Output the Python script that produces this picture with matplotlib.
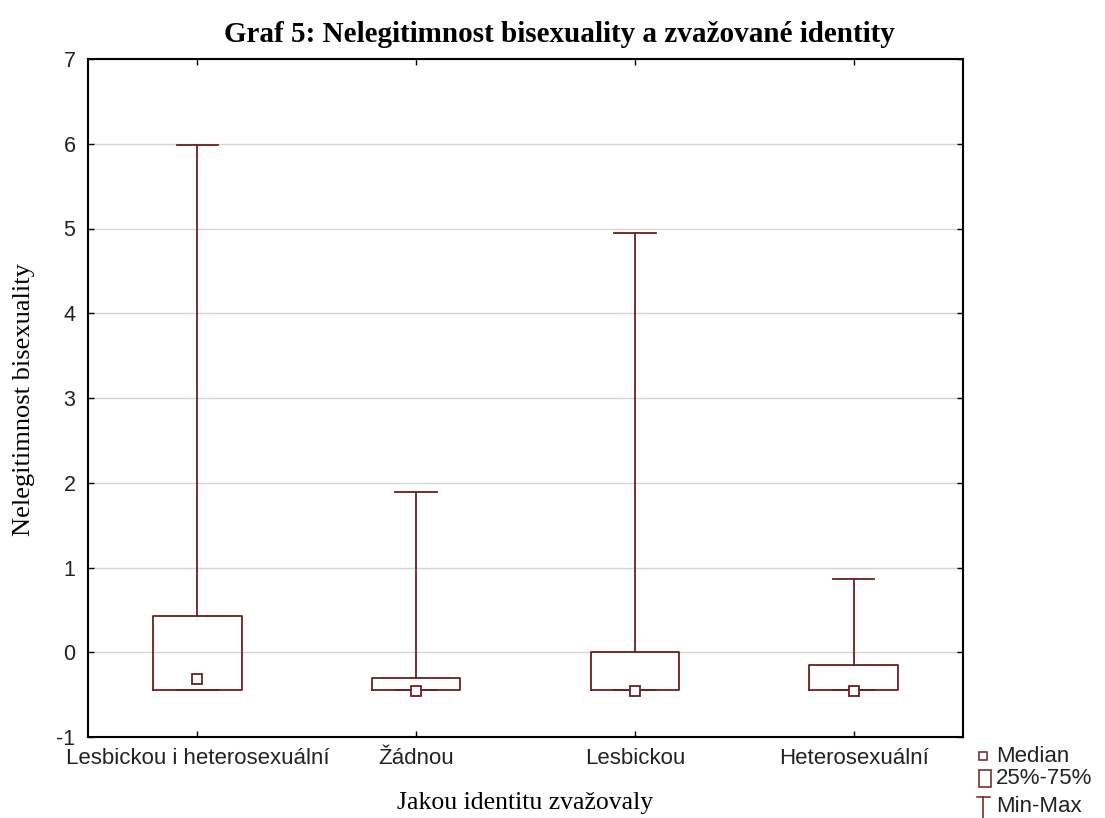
import matplotlib
matplotlib.use("Agg")
import matplotlib.pyplot as plt
from matplotlib.lines import Line2D
from matplotlib.patches import Rectangle

categories = ["Lesbickou i heterosexuální", "Žádnou", "Lesbickou", "Heterosexuální"]
q1 = [-0.45, -0.45, -0.45, -0.45]
q3 = [0.43, -0.30, 0.00, -0.15]
medians = [-0.31, -0.46, -0.46, -0.46]
mins = [-0.45, -0.45, -0.45, -0.45]
maxs = [5.98, 1.89, 4.95, 0.87]
yticks = [-1, 0, 1, 2, 3, 4, 5, 6, 7]

title = "Graf 5: Nelegitimnost bisexuality a zvažované identity"
xlabel = "Jakou identitu zvažovaly"
ylabel = "Nelegitimnost bisexuality"

W, H = 1105, 818
fig = plt.figure(figsize=(W / 100, H / 100), dpi=100)
ax = fig.add_axes([88 / W, 1 - 737 / H, (963 - 88) / W, (737 - 59) / H])

col = "#6a2020"
stats = []
for i in range(len(categories)):
    stats.append(dict(med=medians[i], q1=q1[i], q3=q3[i], whislo=mins[i], whishi=maxs[i], fliers=[]))
pos = list(range(len(categories)))
ax.bxp(stats, positions=pos, widths=0.405, capwidths=0.19, showfliers=False,
       boxprops=dict(color=col, linewidth=1.3),
       whiskerprops=dict(color=col, linewidth=1.3),
       capprops=dict(color=col, linewidth=1.3),
       medianprops=dict(visible=False), zorder=3)
ax.plot(pos, medians, "s", ms=7, mfc="white", mec=col, mew=1.3, ls="none", zorder=4)

ax.set_xlim(-0.5, len(categories) - 0.5)
ax.set_ylim(-1, 7)
ax.set_yticks(yticks)
ax.set_yticklabels([str(v) for v in yticks])
ax.set_xticks(pos)
ax.set_xticklabels(categories)
ax.yaxis.grid(True, color="#d4d4d4", linewidth=1)
ax.set_axisbelow(True)
ax.tick_params(direction="in", length=4, width=1, top=True, right=True, colors="black")
ax.tick_params(axis="x", pad=8, labelsize=16)
ax.tick_params(axis="y", pad=9, labelsize=15.5)
for lab in ax.get_xticklabels() + ax.get_yticklabels():
    lab.set_fontfamily("Liberation Sans")
    lab.set_color("#222222")
for s in ax.spines.values():
    s.set_linewidth(1.5)
    s.set_color("black")

fig.text(559 / W, 1 - 34 / H, title, ha="center", va="center",
         fontfamily="Liberation Serif", fontweight="bold", fontsize=21)
fig.text(0.5 * (88 + 963) / W, 1 - 803 / H, xlabel, ha="center", va="center",
         fontfamily="Liberation Serif", fontsize=18.5)
fig.text(24 / W, 1 - 400 / H, ylabel, ha="center", va="center", rotation=90,
         fontfamily="Liberation Serif", fontsize=19)

# legend
def fx(x):
    return x / W
def fy(y):
    return 1 - y / H
fig.add_artist(Line2D([fx(983)], [fy(756)], marker="s", ms=6, mfc="white", mec=col, mew=1.1,
                      transform=fig.transFigure))
fig.add_artist(Rectangle((fx(979), fy(787)), fx(991) - fx(979), fy(770) - fy(787),
                         fill=False, edgecolor=col, linewidth=1.1, transform=fig.transFigure))
fig.add_artist(Line2D([fx(977), fx(990)], [fy(797), fy(797)], color=col, lw=1.1,
                      transform=fig.transFigure))
fig.add_artist(Line2D([fx(983.5), fx(983.5)], [fy(797), fy(818)], color=col, lw=1.1,
                      transform=fig.transFigure))
for ytxt, txt in [(756, "Median"), (779, "25%-75%"), (806, "Min-Max")]:
    fig.text(fx(996), fy(ytxt), txt, ha="left", va="center", fontfamily="Liberation Sans",
             fontsize=16, color="#222222")

fig.savefig("out.png", dpi=100)
